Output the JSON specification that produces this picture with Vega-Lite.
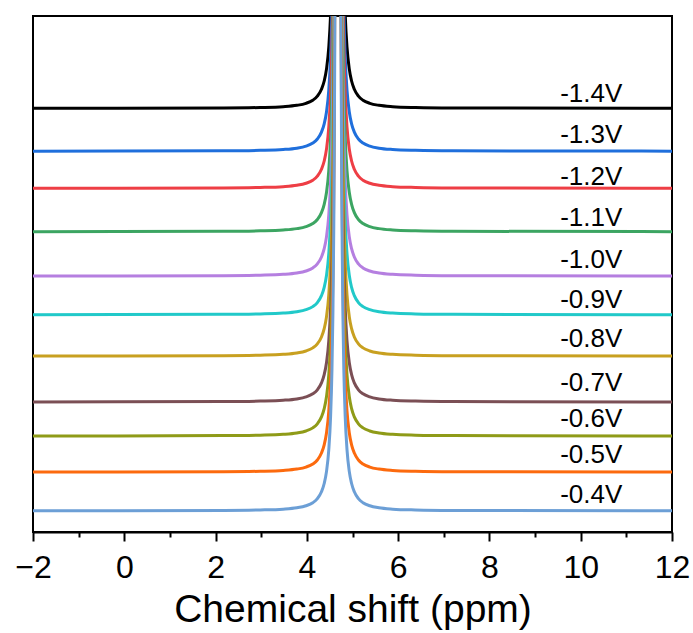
{
"$schema": "https://vega.github.io/schema/vega-lite/v6.json",
"width": 639, "height": 516,
"autosize": "none",
"padding": {"left": 33, "top": 16, "right": 21, "bottom": 101},
"background": "white",
"config": {"view": {"stroke": "black", "strokeWidth": 2}, "font": "Liberation Sans"},
"datasets": {
"spectra": [
{"s":"-1.4V","x":-2,"y":82.11},{"s":"-1.4V","x":2.18,"y":82.18},{"s":"-1.4V","x":2.98,"y":82.27},{"s":"-1.4V","x":3.48,"y":82.43},{"s":"-1.4V","x":3.78,"y":82.69},{"s":"-1.4V","x":3.98,"y":83.08},{"s":"-1.4V","x":4.13,"y":83.68},{"s":"-1.4V","x":4.23,"y":84.46},{"s":"-1.4V","x":4.32,"y":85.8},{"s":"-1.4V","x":4.38,"y":87.4},{"s":"-1.4V","x":4.43,"y":89.7},{"s":"-1.4V","x":4.48,"y":93.9},{"s":"-1.4V","x":4.52,"y":100.4},{"s":"-1.4V","x":4.55,"y":109.5},{"s":"-1.4V","x":4.57,"y":119.9},{"s":"-1.4V","x":4.59,"y":137.1},{"s":"-1.4V","x":4.61,"y":169.1},{"s":"-1.4V","x":4.63,"y":237.1},{"s":"-1.4V","x":4.68,"y":882.1},{"s":"-1.4V","x":4.73,"y":237.1},{"s":"-1.4V","x":4.75,"y":169.1},{"s":"-1.4V","x":4.77,"y":137.1},{"s":"-1.4V","x":4.79,"y":119.9},{"s":"-1.4V","x":4.81,"y":109.5},{"s":"-1.4V","x":4.84,"y":100.4},{"s":"-1.4V","x":4.88,"y":93.9},{"s":"-1.4V","x":4.93,"y":89.7},{"s":"-1.4V","x":4.98,"y":87.4},{"s":"-1.4V","x":5.04,"y":85.8},{"s":"-1.4V","x":5.13,"y":84.46},{"s":"-1.4V","x":5.23,"y":83.68},{"s":"-1.4V","x":5.38,"y":83.08},{"s":"-1.4V","x":5.58,"y":82.69},{"s":"-1.4V","x":5.88,"y":82.43},{"s":"-1.4V","x":6.38,"y":82.27},{"s":"-1.4V","x":7.18,"y":82.18},{"s":"-1.4V","x":12,"y":82.11},
{"s":"-1.3V","x":-2,"y":73.81},{"s":"-1.3V","x":2.18,"y":73.88},{"s":"-1.3V","x":2.98,"y":73.97},{"s":"-1.3V","x":3.48,"y":74.13},{"s":"-1.3V","x":3.78,"y":74.39},{"s":"-1.3V","x":3.98,"y":74.78},{"s":"-1.3V","x":4.13,"y":75.38},{"s":"-1.3V","x":4.23,"y":76.16},{"s":"-1.3V","x":4.32,"y":77.5},{"s":"-1.3V","x":4.38,"y":79.1},{"s":"-1.3V","x":4.43,"y":81.4},{"s":"-1.3V","x":4.48,"y":85.6},{"s":"-1.3V","x":4.52,"y":92.1},{"s":"-1.3V","x":4.55,"y":101.2},{"s":"-1.3V","x":4.57,"y":111.6},{"s":"-1.3V","x":4.59,"y":128.8},{"s":"-1.3V","x":4.61,"y":160.8},{"s":"-1.3V","x":4.63,"y":228.8},{"s":"-1.3V","x":4.68,"y":873.8},{"s":"-1.3V","x":4.73,"y":228.8},{"s":"-1.3V","x":4.75,"y":160.8},{"s":"-1.3V","x":4.77,"y":128.8},{"s":"-1.3V","x":4.79,"y":111.6},{"s":"-1.3V","x":4.81,"y":101.2},{"s":"-1.3V","x":4.84,"y":92.1},{"s":"-1.3V","x":4.88,"y":85.6},{"s":"-1.3V","x":4.93,"y":81.4},{"s":"-1.3V","x":4.98,"y":79.1},{"s":"-1.3V","x":5.04,"y":77.5},{"s":"-1.3V","x":5.13,"y":76.16},{"s":"-1.3V","x":5.23,"y":75.38},{"s":"-1.3V","x":5.38,"y":74.78},{"s":"-1.3V","x":5.58,"y":74.39},{"s":"-1.3V","x":5.88,"y":74.13},{"s":"-1.3V","x":6.38,"y":73.97},{"s":"-1.3V","x":7.18,"y":73.88},{"s":"-1.3V","x":12,"y":73.81},
{"s":"-1.2V","x":-2,"y":66.61},{"s":"-1.2V","x":2.18,"y":66.68},{"s":"-1.2V","x":2.98,"y":66.77},{"s":"-1.2V","x":3.48,"y":66.93},{"s":"-1.2V","x":3.78,"y":67.19},{"s":"-1.2V","x":3.98,"y":67.58},{"s":"-1.2V","x":4.13,"y":68.18},{"s":"-1.2V","x":4.23,"y":68.96},{"s":"-1.2V","x":4.32,"y":70.3},{"s":"-1.2V","x":4.38,"y":71.9},{"s":"-1.2V","x":4.43,"y":74.2},{"s":"-1.2V","x":4.48,"y":78.4},{"s":"-1.2V","x":4.52,"y":84.9},{"s":"-1.2V","x":4.55,"y":94.0},{"s":"-1.2V","x":4.57,"y":104.4},{"s":"-1.2V","x":4.59,"y":121.6},{"s":"-1.2V","x":4.61,"y":153.6},{"s":"-1.2V","x":4.63,"y":221.6},{"s":"-1.2V","x":4.68,"y":866.6},{"s":"-1.2V","x":4.73,"y":221.6},{"s":"-1.2V","x":4.75,"y":153.6},{"s":"-1.2V","x":4.77,"y":121.6},{"s":"-1.2V","x":4.79,"y":104.4},{"s":"-1.2V","x":4.81,"y":94.0},{"s":"-1.2V","x":4.84,"y":84.9},{"s":"-1.2V","x":4.88,"y":78.4},{"s":"-1.2V","x":4.93,"y":74.2},{"s":"-1.2V","x":4.98,"y":71.9},{"s":"-1.2V","x":5.04,"y":70.3},{"s":"-1.2V","x":5.13,"y":68.96},{"s":"-1.2V","x":5.23,"y":68.18},{"s":"-1.2V","x":5.38,"y":67.58},{"s":"-1.2V","x":5.58,"y":67.19},{"s":"-1.2V","x":5.88,"y":66.93},{"s":"-1.2V","x":6.38,"y":66.77},{"s":"-1.2V","x":7.18,"y":66.68},{"s":"-1.2V","x":12,"y":66.61},
{"s":"-1.1V","x":-2,"y":58.21},{"s":"-1.1V","x":2.18,"y":58.28},{"s":"-1.1V","x":2.98,"y":58.37},{"s":"-1.1V","x":3.48,"y":58.53},{"s":"-1.1V","x":3.78,"y":58.79},{"s":"-1.1V","x":3.98,"y":59.18},{"s":"-1.1V","x":4.13,"y":59.78},{"s":"-1.1V","x":4.23,"y":60.56},{"s":"-1.1V","x":4.32,"y":61.9},{"s":"-1.1V","x":4.38,"y":63.5},{"s":"-1.1V","x":4.43,"y":65.8},{"s":"-1.1V","x":4.48,"y":70.0},{"s":"-1.1V","x":4.52,"y":76.5},{"s":"-1.1V","x":4.55,"y":85.6},{"s":"-1.1V","x":4.57,"y":96.0},{"s":"-1.1V","x":4.59,"y":113.2},{"s":"-1.1V","x":4.61,"y":145.2},{"s":"-1.1V","x":4.63,"y":213.2},{"s":"-1.1V","x":4.68,"y":858.2},{"s":"-1.1V","x":4.73,"y":213.2},{"s":"-1.1V","x":4.75,"y":145.2},{"s":"-1.1V","x":4.77,"y":113.2},{"s":"-1.1V","x":4.79,"y":96.0},{"s":"-1.1V","x":4.81,"y":85.6},{"s":"-1.1V","x":4.84,"y":76.5},{"s":"-1.1V","x":4.88,"y":70.0},{"s":"-1.1V","x":4.93,"y":65.8},{"s":"-1.1V","x":4.98,"y":63.5},{"s":"-1.1V","x":5.04,"y":61.9},{"s":"-1.1V","x":5.13,"y":60.56},{"s":"-1.1V","x":5.23,"y":59.78},{"s":"-1.1V","x":5.38,"y":59.18},{"s":"-1.1V","x":5.58,"y":58.79},{"s":"-1.1V","x":5.88,"y":58.53},{"s":"-1.1V","x":6.38,"y":58.37},{"s":"-1.1V","x":7.18,"y":58.28},{"s":"-1.1V","x":12,"y":58.21},
{"s":"-1.0V","x":-2,"y":49.61},{"s":"-1.0V","x":2.18,"y":49.68},{"s":"-1.0V","x":2.98,"y":49.77},{"s":"-1.0V","x":3.48,"y":49.93},{"s":"-1.0V","x":3.78,"y":50.19},{"s":"-1.0V","x":3.98,"y":50.58},{"s":"-1.0V","x":4.13,"y":51.18},{"s":"-1.0V","x":4.23,"y":51.96},{"s":"-1.0V","x":4.32,"y":53.3},{"s":"-1.0V","x":4.38,"y":54.9},{"s":"-1.0V","x":4.43,"y":57.2},{"s":"-1.0V","x":4.48,"y":61.4},{"s":"-1.0V","x":4.52,"y":67.9},{"s":"-1.0V","x":4.55,"y":77.0},{"s":"-1.0V","x":4.57,"y":87.4},{"s":"-1.0V","x":4.59,"y":104.6},{"s":"-1.0V","x":4.61,"y":136.6},{"s":"-1.0V","x":4.63,"y":204.6},{"s":"-1.0V","x":4.68,"y":849.6},{"s":"-1.0V","x":4.73,"y":204.6},{"s":"-1.0V","x":4.75,"y":136.6},{"s":"-1.0V","x":4.77,"y":104.6},{"s":"-1.0V","x":4.79,"y":87.4},{"s":"-1.0V","x":4.81,"y":77.0},{"s":"-1.0V","x":4.84,"y":67.9},{"s":"-1.0V","x":4.88,"y":61.4},{"s":"-1.0V","x":4.93,"y":57.2},{"s":"-1.0V","x":4.98,"y":54.9},{"s":"-1.0V","x":5.04,"y":53.3},{"s":"-1.0V","x":5.13,"y":51.96},{"s":"-1.0V","x":5.23,"y":51.18},{"s":"-1.0V","x":5.38,"y":50.58},{"s":"-1.0V","x":5.58,"y":50.19},{"s":"-1.0V","x":5.88,"y":49.93},{"s":"-1.0V","x":6.38,"y":49.77},{"s":"-1.0V","x":7.18,"y":49.68},{"s":"-1.0V","x":12,"y":49.61},
{"s":"-0.9V","x":-2,"y":42.11},{"s":"-0.9V","x":2.18,"y":42.18},{"s":"-0.9V","x":2.98,"y":42.27},{"s":"-0.9V","x":3.48,"y":42.43},{"s":"-0.9V","x":3.78,"y":42.69},{"s":"-0.9V","x":3.98,"y":43.08},{"s":"-0.9V","x":4.13,"y":43.68},{"s":"-0.9V","x":4.23,"y":44.46},{"s":"-0.9V","x":4.32,"y":45.8},{"s":"-0.9V","x":4.38,"y":47.4},{"s":"-0.9V","x":4.43,"y":49.7},{"s":"-0.9V","x":4.48,"y":53.9},{"s":"-0.9V","x":4.52,"y":60.4},{"s":"-0.9V","x":4.55,"y":69.5},{"s":"-0.9V","x":4.57,"y":79.9},{"s":"-0.9V","x":4.59,"y":97.1},{"s":"-0.9V","x":4.61,"y":129.1},{"s":"-0.9V","x":4.63,"y":197.1},{"s":"-0.9V","x":4.68,"y":842.1},{"s":"-0.9V","x":4.73,"y":197.1},{"s":"-0.9V","x":4.75,"y":129.1},{"s":"-0.9V","x":4.77,"y":97.1},{"s":"-0.9V","x":4.79,"y":79.9},{"s":"-0.9V","x":4.81,"y":69.5},{"s":"-0.9V","x":4.84,"y":60.4},{"s":"-0.9V","x":4.88,"y":53.9},{"s":"-0.9V","x":4.93,"y":49.7},{"s":"-0.9V","x":4.98,"y":47.4},{"s":"-0.9V","x":5.04,"y":45.8},{"s":"-0.9V","x":5.13,"y":44.46},{"s":"-0.9V","x":5.23,"y":43.68},{"s":"-0.9V","x":5.38,"y":43.08},{"s":"-0.9V","x":5.58,"y":42.69},{"s":"-0.9V","x":5.88,"y":42.43},{"s":"-0.9V","x":6.38,"y":42.27},{"s":"-0.9V","x":7.18,"y":42.18},{"s":"-0.9V","x":12,"y":42.11},
{"s":"-0.8V","x":-2,"y":34.11},{"s":"-0.8V","x":2.18,"y":34.18},{"s":"-0.8V","x":2.98,"y":34.27},{"s":"-0.8V","x":3.48,"y":34.43},{"s":"-0.8V","x":3.78,"y":34.69},{"s":"-0.8V","x":3.98,"y":35.08},{"s":"-0.8V","x":4.13,"y":35.68},{"s":"-0.8V","x":4.23,"y":36.46},{"s":"-0.8V","x":4.32,"y":37.8},{"s":"-0.8V","x":4.38,"y":39.4},{"s":"-0.8V","x":4.43,"y":41.7},{"s":"-0.8V","x":4.48,"y":45.9},{"s":"-0.8V","x":4.52,"y":52.4},{"s":"-0.8V","x":4.55,"y":61.5},{"s":"-0.8V","x":4.57,"y":71.9},{"s":"-0.8V","x":4.59,"y":89.1},{"s":"-0.8V","x":4.61,"y":121.1},{"s":"-0.8V","x":4.63,"y":189.1},{"s":"-0.8V","x":4.68,"y":834.1},{"s":"-0.8V","x":4.73,"y":189.1},{"s":"-0.8V","x":4.75,"y":121.1},{"s":"-0.8V","x":4.77,"y":89.1},{"s":"-0.8V","x":4.79,"y":71.9},{"s":"-0.8V","x":4.81,"y":61.5},{"s":"-0.8V","x":4.84,"y":52.4},{"s":"-0.8V","x":4.88,"y":45.9},{"s":"-0.8V","x":4.93,"y":41.7},{"s":"-0.8V","x":4.98,"y":39.4},{"s":"-0.8V","x":5.04,"y":37.8},{"s":"-0.8V","x":5.13,"y":36.46},{"s":"-0.8V","x":5.23,"y":35.68},{"s":"-0.8V","x":5.38,"y":35.08},{"s":"-0.8V","x":5.58,"y":34.69},{"s":"-0.8V","x":5.88,"y":34.43},{"s":"-0.8V","x":6.38,"y":34.27},{"s":"-0.8V","x":7.18,"y":34.18},{"s":"-0.8V","x":12,"y":34.11},
{"s":"-0.7V","x":-2,"y":25.21},{"s":"-0.7V","x":2.18,"y":25.28},{"s":"-0.7V","x":2.98,"y":25.37},{"s":"-0.7V","x":3.48,"y":25.53},{"s":"-0.7V","x":3.78,"y":25.79},{"s":"-0.7V","x":3.98,"y":26.18},{"s":"-0.7V","x":4.13,"y":26.78},{"s":"-0.7V","x":4.23,"y":27.56},{"s":"-0.7V","x":4.32,"y":28.9},{"s":"-0.7V","x":4.38,"y":30.5},{"s":"-0.7V","x":4.43,"y":32.8},{"s":"-0.7V","x":4.48,"y":37.0},{"s":"-0.7V","x":4.52,"y":43.5},{"s":"-0.7V","x":4.55,"y":52.6},{"s":"-0.7V","x":4.57,"y":63.0},{"s":"-0.7V","x":4.59,"y":80.2},{"s":"-0.7V","x":4.61,"y":112.2},{"s":"-0.7V","x":4.63,"y":180.2},{"s":"-0.7V","x":4.68,"y":825.2},{"s":"-0.7V","x":4.73,"y":180.2},{"s":"-0.7V","x":4.75,"y":112.2},{"s":"-0.7V","x":4.77,"y":80.2},{"s":"-0.7V","x":4.79,"y":63.0},{"s":"-0.7V","x":4.81,"y":52.6},{"s":"-0.7V","x":4.84,"y":43.5},{"s":"-0.7V","x":4.88,"y":37.0},{"s":"-0.7V","x":4.93,"y":32.8},{"s":"-0.7V","x":4.98,"y":30.5},{"s":"-0.7V","x":5.04,"y":28.9},{"s":"-0.7V","x":5.13,"y":27.56},{"s":"-0.7V","x":5.23,"y":26.78},{"s":"-0.7V","x":5.38,"y":26.18},{"s":"-0.7V","x":5.58,"y":25.79},{"s":"-0.7V","x":5.88,"y":25.53},{"s":"-0.7V","x":6.38,"y":25.37},{"s":"-0.7V","x":7.18,"y":25.28},{"s":"-0.7V","x":12,"y":25.21},
{"s":"-0.6V","x":-2,"y":18.61},{"s":"-0.6V","x":2.18,"y":18.68},{"s":"-0.6V","x":2.98,"y":18.77},{"s":"-0.6V","x":3.48,"y":18.93},{"s":"-0.6V","x":3.78,"y":19.19},{"s":"-0.6V","x":3.98,"y":19.58},{"s":"-0.6V","x":4.13,"y":20.18},{"s":"-0.6V","x":4.23,"y":20.96},{"s":"-0.6V","x":4.32,"y":22.3},{"s":"-0.6V","x":4.38,"y":23.9},{"s":"-0.6V","x":4.43,"y":26.2},{"s":"-0.6V","x":4.48,"y":30.4},{"s":"-0.6V","x":4.52,"y":36.9},{"s":"-0.6V","x":4.55,"y":46.0},{"s":"-0.6V","x":4.57,"y":56.4},{"s":"-0.6V","x":4.59,"y":73.6},{"s":"-0.6V","x":4.61,"y":105.6},{"s":"-0.6V","x":4.63,"y":173.6},{"s":"-0.6V","x":4.68,"y":818.6},{"s":"-0.6V","x":4.73,"y":173.6},{"s":"-0.6V","x":4.75,"y":105.6},{"s":"-0.6V","x":4.77,"y":73.6},{"s":"-0.6V","x":4.79,"y":56.4},{"s":"-0.6V","x":4.81,"y":46.0},{"s":"-0.6V","x":4.84,"y":36.9},{"s":"-0.6V","x":4.88,"y":30.4},{"s":"-0.6V","x":4.93,"y":26.2},{"s":"-0.6V","x":4.98,"y":23.9},{"s":"-0.6V","x":5.04,"y":22.3},{"s":"-0.6V","x":5.13,"y":20.96},{"s":"-0.6V","x":5.23,"y":20.18},{"s":"-0.6V","x":5.38,"y":19.58},{"s":"-0.6V","x":5.58,"y":19.19},{"s":"-0.6V","x":5.88,"y":18.93},{"s":"-0.6V","x":6.38,"y":18.77},{"s":"-0.6V","x":7.18,"y":18.68},{"s":"-0.6V","x":12,"y":18.61},
{"s":"-0.5V","x":-2,"y":11.61},{"s":"-0.5V","x":2.18,"y":11.68},{"s":"-0.5V","x":2.98,"y":11.77},{"s":"-0.5V","x":3.48,"y":11.93},{"s":"-0.5V","x":3.78,"y":12.19},{"s":"-0.5V","x":3.98,"y":12.58},{"s":"-0.5V","x":4.13,"y":13.18},{"s":"-0.5V","x":4.23,"y":13.96},{"s":"-0.5V","x":4.32,"y":15.3},{"s":"-0.5V","x":4.38,"y":16.9},{"s":"-0.5V","x":4.43,"y":19.2},{"s":"-0.5V","x":4.48,"y":23.4},{"s":"-0.5V","x":4.52,"y":29.9},{"s":"-0.5V","x":4.55,"y":39.0},{"s":"-0.5V","x":4.57,"y":49.4},{"s":"-0.5V","x":4.59,"y":66.6},{"s":"-0.5V","x":4.61,"y":98.6},{"s":"-0.5V","x":4.63,"y":166.6},{"s":"-0.5V","x":4.68,"y":811.6},{"s":"-0.5V","x":4.73,"y":166.6},{"s":"-0.5V","x":4.75,"y":98.6},{"s":"-0.5V","x":4.77,"y":66.6},{"s":"-0.5V","x":4.79,"y":49.4},{"s":"-0.5V","x":4.81,"y":39.0},{"s":"-0.5V","x":4.84,"y":29.9},{"s":"-0.5V","x":4.88,"y":23.4},{"s":"-0.5V","x":4.93,"y":19.2},{"s":"-0.5V","x":4.98,"y":16.9},{"s":"-0.5V","x":5.04,"y":15.3},{"s":"-0.5V","x":5.13,"y":13.96},{"s":"-0.5V","x":5.23,"y":13.18},{"s":"-0.5V","x":5.38,"y":12.58},{"s":"-0.5V","x":5.58,"y":12.19},{"s":"-0.5V","x":5.88,"y":11.93},{"s":"-0.5V","x":6.38,"y":11.77},{"s":"-0.5V","x":7.18,"y":11.68},{"s":"-0.5V","x":12,"y":11.61},
{"s":"-0.4V","x":-2,"y":4.11},{"s":"-0.4V","x":2.18,"y":4.18},{"s":"-0.4V","x":2.98,"y":4.27},{"s":"-0.4V","x":3.48,"y":4.43},{"s":"-0.4V","x":3.78,"y":4.69},{"s":"-0.4V","x":3.98,"y":5.08},{"s":"-0.4V","x":4.13,"y":5.68},{"s":"-0.4V","x":4.23,"y":6.46},{"s":"-0.4V","x":4.32,"y":7.8},{"s":"-0.4V","x":4.38,"y":9.4},{"s":"-0.4V","x":4.43,"y":11.7},{"s":"-0.4V","x":4.48,"y":15.9},{"s":"-0.4V","x":4.52,"y":22.4},{"s":"-0.4V","x":4.55,"y":31.5},{"s":"-0.4V","x":4.57,"y":41.9},{"s":"-0.4V","x":4.59,"y":59.1},{"s":"-0.4V","x":4.61,"y":91.1},{"s":"-0.4V","x":4.63,"y":159.1},{"s":"-0.4V","x":4.68,"y":804.1},{"s":"-0.4V","x":4.73,"y":159.1},{"s":"-0.4V","x":4.75,"y":91.1},{"s":"-0.4V","x":4.77,"y":59.1},{"s":"-0.4V","x":4.79,"y":41.9},{"s":"-0.4V","x":4.81,"y":31.5},{"s":"-0.4V","x":4.84,"y":22.4},{"s":"-0.4V","x":4.88,"y":15.9},{"s":"-0.4V","x":4.93,"y":11.7},{"s":"-0.4V","x":4.98,"y":9.4},{"s":"-0.4V","x":5.04,"y":7.8},{"s":"-0.4V","x":5.13,"y":6.46},{"s":"-0.4V","x":5.23,"y":5.68},{"s":"-0.4V","x":5.38,"y":5.08},{"s":"-0.4V","x":5.58,"y":4.69},{"s":"-0.4V","x":5.88,"y":4.43},{"s":"-0.4V","x":6.38,"y":4.27},{"s":"-0.4V","x":7.18,"y":4.18},{"s":"-0.4V","x":12,"y":4.11}
],
"labels": [
{"label":"-1.4V","x":10.23,"y":83.4},
{"label":"-1.3V","x":10.23,"y":75.4},
{"label":"-1.2V","x":10.23,"y":67.2},
{"label":"-1.1V","x":10.23,"y":59.3},
{"label":"-1.0V","x":10.23,"y":51.1},
{"label":"-0.9V","x":10.23,"y":43.5},
{"label":"-0.8V","x":10.23,"y":35.8},
{"label":"-0.7V","x":10.23,"y":27.4},
{"label":"-0.6V","x":10.23,"y":20.4},
{"label":"-0.5V","x":10.23,"y":13.3},
{"label":"-0.4V","x":10.23,"y":5.6}
]
},
"layer": [
{
"data": {"name": "spectra"},
"mark": {"type": "line", "strokeWidth": 3, "interpolate": "monotone", "clip": true},
"encoding": {
"x": {"field": "x", "type": "quantitative", "scale": {"domain": [-2, 12], "nice": false, "zero": false},
"axis": {"orient": "bottom", "values": [-2, 0, 2, 4, 6, 8, 10, 12], "tickSize": 9, "tickWidth": 2, "tickColor": "black", "domainColor": "black", "domainWidth": 2, "labelFontSize": 32, "labelColor": "black", "labelPadding": 11, "labelFlush": false, "labelOverlap": false, "labelBound": false, "labelFont": "Liberation Sans", "title": "Chemical shift (ppm)", "titleFont": "Liberation Sans", "titleFontSize": 39, "titleFontWeight": "normal", "titleColor": "black", "titlePadding": 7, "grid": false}},
"y": {"field": "y", "type": "quantitative", "scale": {"domain": [0, 100], "nice": false, "zero": false}, "axis": null},
"color": {"field": "s", "type": "nominal", "legend": null,
"scale": {"domain": ["-1.4V","-1.3V","-1.2V","-1.1V","-1.0V","-0.9V","-0.8V","-0.7V","-0.6V","-0.5V","-0.4V"],
"range": ["#000000","#1f6fdc","#ee3e45","#3ca562","#b57fe0","#21c9c9","#c8a020","#7b4f55","#8f9b18","#fc6a0e","#6c9fd6"]}}
}
},
{
"data": {"name": "labels"},
"mark": {"type": "text", "fontSize": 26, "align": "center", "baseline": "alphabetic", "font": "Liberation Sans", "color": "black"},
"encoding": {
"x": {"field": "x", "type": "quantitative", "axis": {"orient": "bottom", "values": [-1, 1, 3, 5, 7, 9, 11], "tickSize": 5, "tickWidth": 2, "tickColor": "black", "domain": false, "labels": false, "title": null, "grid": false}},
"y": {"field": "y", "type": "quantitative", "axis": null},
"text": {"field": "label"}
}
}
],
"resolve": {"axis": {"x": "independent"}}
}
